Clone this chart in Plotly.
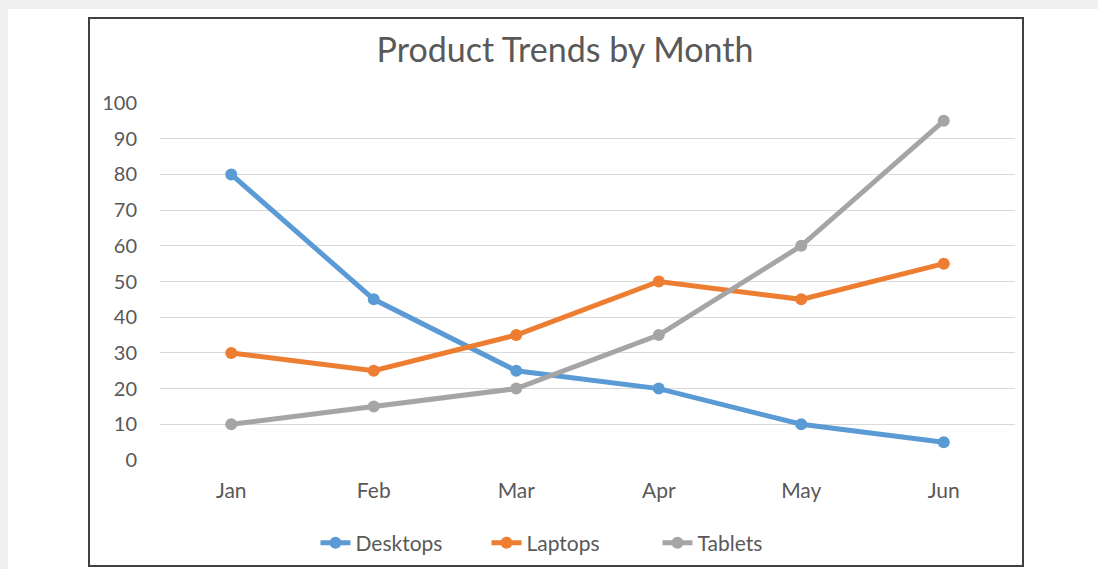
import plotly.graph_objects as go

months = ["Jan", "Feb", "Mar", "Apr", "May", "Jun"]
desktops = [80, 45, 25, 20, 10, 5]
laptops = [30, 25, 35, 50, 45, 55]
tablets = [10, 15, 20, 35, 60, 95]
y_ticks = list(range(0, 101, 10))

series = [
    ("Desktops", desktops, "#5B9BD5"),
    ("Laptops", laptops, "#ED7D31"),
    ("Tablets", tablets, "#A5A5A5"),
]

W, H = 1098, 569
L, R, T, B = 160, 1015, 103, 460  # plot area pixel bounds

def px(x):
    return (x - L) / (R - L)

def py(y):
    return (B - y) / (B - T)

fig = go.Figure()
for name, vals, color in series:
    fig.add_trace(go.Scatter(
        x=months, y=vals, name=name, mode="lines+markers",
        line=dict(color=color, width=5),
        marker=dict(color=color, size=12),
    ))

font_fam = "Lato, 'Open Sans', sans-serif"
fig.update_layout(
    width=W, height=H, autosize=False,
    margin=dict(l=L, r=W - R, t=T, b=H - B, pad=0, autoexpand=False),
    paper_bgcolor="#f0f0f0",
    plot_bgcolor="rgba(0,0,0,0)",
    font=dict(family=font_fam, color="#595959", size=20),
    title=dict(text="Product Trends by Month", x=565 / W, xanchor="center",
               y=1 - 50 / H, yanchor="middle",
               font=dict(size=34, color="#595959", family=font_fam)),
    showlegend=True,
    legend=dict(orientation="h", xref="container", yref="container",
                x=572 / W, xanchor="center", y=1 - 543 / H, yanchor="middle",
                font=dict(size=21, color="#595959"), bgcolor="rgba(0,0,0,0)",
                entrywidth=126, entrywidthmode="pixels", tracegroupgap=0),
    xaxis=dict(range=[-0.5, 5.5], showgrid=False, zeroline=False, showline=False,
               ticks="", tickfont=dict(size=21, color="#595959"), ticklabelstandoff=16,
               automargin=False),
    yaxis=dict(range=[0, 100], tickvals=y_ticks, showgrid=True, gridcolor="#d9d9d9",
               gridwidth=1, zeroline=False, showline=False, ticks="",
               tickfont=dict(size=20, color="#595959"), ticklabelstandoff=22,
               automargin=False),
    shapes=[
        dict(type="rect", xref="paper", yref="paper", x0=px(8), x1=px(W + 5), y0=py(9), y1=py(H + 5),
             fillcolor="white", line=dict(width=0), layer="below"),
        dict(type="rect", xref="paper", yref="paper", x0=px(89), x1=px(1023), y0=py(18), y1=py(566),
             fillcolor="rgba(0,0,0,0)", line=dict(color="#404040", width=2), layer="above"),
    ],
)

fig.write_html("out.html", config={"displayModeBar": False, "responsive": False},
               post_script="document.body.style.margin='0';document.body.style.overflow='hidden';")
